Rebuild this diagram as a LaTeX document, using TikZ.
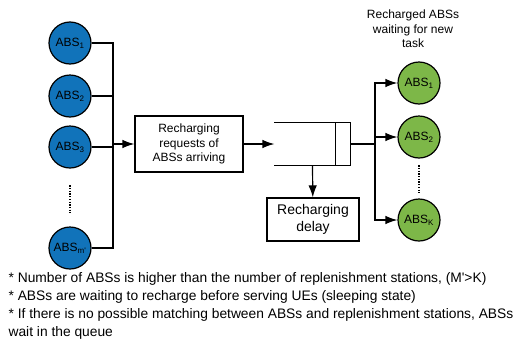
\documentclass[tikz,border=0pt]{standalone}
\usepackage{fontspec}
\setmainfont{Liberation Sans}
\usepackage{xcolor}
\usepackage{tikz}
\usetikzlibrary{calc,arrows.meta}
\definecolor{absblue}{RGB}{17,115,186}
\definecolor{absgreen}{RGB}{125,183,72}
\newcommand{\drawABS}[5]{% name, x, y, subscript, fill
  \node[circle,draw,fill=#5,minimum size=42pt,inner sep=0pt] (#1) at (#2, #3) {ABS\textsubscript{#4}};
}
\newcommand{\drawDots}[4]{% from node, to node, start, end
  \draw[line width=1.6pt,dash pattern=on 1.3pt off 1.4pt] ($(#1)!#3!(#2)$) -- ($(#1)!#4!(#2)$);
}

\begin{document}
\begin{tikzpicture}[x=1pt,y=-1pt,line width=1.2pt,font=\fontsize{12}{14.5}\selectfont,
  flow/.style={-{Latex[length=12pt,width=8.5pt]}}]
\useasboundingbox (0,0) rectangle (526,343);

% ABSs asking for a recharge
\drawABS{abs1}{70}{43}{1}{absblue}
\drawABS{abs2}{70}{96}{2}{absblue}
\drawABS{abs3}{70}{147}{3}{absblue}
\drawABS{absm}{70}{248}{m\textquotesingle}{absblue}
\drawDots{abs3}{absm}{0.38}{0.65}

\coordinate (bus) at (113,144);
\draw (abs1.east) -| (bus);
\draw (absm.east) -| (bus);
\draw (abs2.east) -- (abs2.east -| bus);
\draw (abs3.east) -- (abs3.east -| bus);

% Requests and queue
\node[draw,minimum width=108pt,minimum height=56pt,align=center] (req) at (189,144)
  {Recharging\\requests of\\ABSs arriving};
\draw[flow] (bus) -- (req);

\node[minimum width=75pt,minimum height=42pt,inner sep=0pt] (queue) at (312.5,144) {};
\draw (queue.north west) -- (queue.north east) -- (queue.south east) -- (queue.south west);
\draw ([xshift=-15pt]queue.north east) -- ([xshift=-15pt]queue.south east);
\draw[flow] (req) -- (queue.west);

\node[draw,minimum width=92pt,minimum height=43pt,align=center,font=\fontsize{14}{16.5}\selectfont]
  (delay) at (313,219.5) {Recharging\\delay};
\draw[flow] (queue.south) -- (delay);

% Recharged ABSs
\node[align=center] (title) at (413,29) {Recharged ABSs\\waiting for new\\task};
\drawABS{rabs1}{419}{83}{1}{absgreen}
\drawABS{rabs2}{419}{137}{2}{absgreen}
\drawABS{rabsk}{419}{220}{K}{absgreen}
\drawDots{rabs2}{rabsk}{0.34}{0.67}

\coordinate (split) at (375,144);
\draw (queue.east) -- (split);
\draw[flow] (split) |- (rabs1);
\draw[flow] (split) |- (rabs2);
\draw[flow] (split) |- (rabsk);

% Notes
\node[anchor=north west,align=left,inner sep=0pt,font=\fontsize{13.8}{17.8}\selectfont] (notes) at (8,272)
  {* Number of ABSs is higher than the number of replenishment stations, (M\textquotesingle>K)\\
   * ABSs are waiting to recharge before serving UEs (sleeping state)\\
   * If there is no possible matching between ABSs and replenishment stations, ABSs\\
   wait in the queue};

\end{tikzpicture}
\end{document}
